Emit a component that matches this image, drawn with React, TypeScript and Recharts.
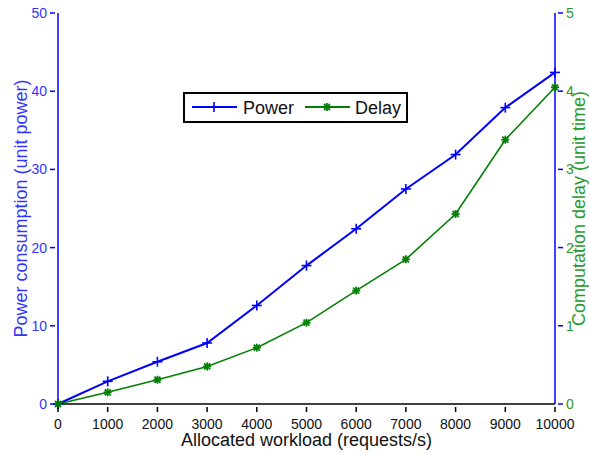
import React from "react";
import { LineChart, Line, XAxis, YAxis } from "recharts";

const workload = [0, 1000, 2000, 3000, 4000, 5000, 6000, 7000, 8000, 9000, 10000];
const power = [0, 2.9, 5.4, 7.8, 12.6, 17.7, 22.4, 27.5, 31.9, 37.9, 42.4];
const delay = [0, 0.15, 0.31, 0.48, 0.72, 1.04, 1.45, 1.85, 2.43, 3.38, 4.05];

const xTicks = [0, 1000, 2000, 3000, 4000, 5000, 6000, 7000, 8000, 9000, 10000];
const powerTicks = [0, 10, 20, 30, 40, 50];
const delayTicks = [0, 1, 2, 3, 4, 5];

const BLUE = "#0000ff";
const GREEN = "#008000";
const LABEL_GREEN = "#2a9a2a";
const FONT = "'Liberation Sans', Arial, sans-serif";

const data = workload.map((w, i) => ({ w, power: power[i], delay: delay[i] }));

const PlusDot = (props: any) => {
  const { cx, cy } = props;
  if (cx == null || cy == null) return null;
  return (
    <g stroke={BLUE} strokeWidth={1.6}>
      <line x1={cx - 5} y1={cy} x2={cx + 5} y2={cy} />
      <line x1={cx} y1={cy - 5} x2={cx} y2={cy + 5} />
    </g>
  );
};

const StarDot = (props: any) => {
  const { cx, cy } = props;
  if (cx == null || cy == null) return null;
  return (
    <g stroke={GREEN} strokeWidth={1.8}>
      <line x1={cx - 4} y1={cy} x2={cx + 4} y2={cy} />
      <line x1={cx} y1={cy - 4} x2={cx} y2={cy + 4} />
      <line x1={cx - 3} y1={cy - 3} x2={cx + 3} y2={cy + 3} />
      <line x1={cx - 3} y1={cy + 3} x2={cx + 3} y2={cy - 3} />
    </g>
  );
};

// ticks point into the plot, like the original
const BottomTick = (props: any) => {
  const { x, y, payload } = props;
  return (
    <g>
      <line x1={x} y1={y} x2={x} y2={y - 5} stroke="#000" strokeWidth={1.5} />
      <text x={x} y={y + 17} textAnchor="middle" fontSize={14} fontFamily={FONT} fill="#111">
        {payload.value}
      </text>
    </g>
  );
};

const TopTick = (props: any) => {
  const { x, y } = props;
  return <line x1={x} y1={y} x2={x} y2={y + 5} stroke="#000" strokeWidth={1.5} />;
};

const LeftTick = (props: any) => {
  const { x, y, payload } = props;
  return (
    <g>
      <line x1={x} y1={y} x2={x + 5} y2={y} stroke={BLUE} strokeWidth={1.5} />
      <text x={x - 3} y={y + 5} textAnchor="end" fontSize={14} fontFamily={FONT} fill="#3333ff">
        {payload.value}
      </text>
    </g>
  );
};

const RightTick = (props: any) => {
  const { x, y, payload } = props;
  return (
    <g>
      <line x1={x} y1={y} x2={x - 5} y2={y} stroke={BLUE} strokeWidth={1.5} />
      <text x={x + 3} y={y + 5} textAnchor="start" fontSize={14} fontFamily={FONT} fill={LABEL_GREEN}>
        {payload.value}
      </text>
    </g>
  );
};

const XLabel = (props: any) => {
  const { viewBox } = props;
  const cx = viewBox.x + viewBox.width / 2;
  return (
    <text x={cx} y={viewBox.y + 42} textAnchor="middle" fontSize={18} fontFamily={FONT} fill="#111">
      Allocated workload (requests/s)
    </text>
  );
};

const LeftLabel = (props: any) => {
  const { viewBox } = props;
  const cy = viewBox.y + viewBox.height / 2;
  const cx = 27;
  return (
    <text
      x={cx}
      y={cy}
      transform={`rotate(-90 ${cx} ${cy})`}
      textAnchor="middle"
      fontSize={18}
      fontFamily={FONT}
      fill="#3333ff"
    >
      Power consumption (unit power)
    </text>
  );
};

const RightLabel = (props: any) => {
  const { viewBox } = props;
  const cy = viewBox.y + viewBox.height / 2;
  const cx = 585;
  return (
    <text
      x={cx}
      y={cy}
      transform={`rotate(-90 ${cx} ${cy})`}
      textAnchor="middle"
      fontSize={18}
      fontFamily={FONT}
      fill={LABEL_GREEN}
    >
      Computation delay (unit time)
    </text>
  );
};

function ChartLegend() {
  return (
    <div
      style={{
        position: "absolute",
        left: 183,
        top: 92,
        width: 221,
        height: 27,
        border: "2px solid #000",
        background: "#fff",
      }}
    >
      <svg width={221} height={27}>
        <line x1={7} y1={13} x2={52} y2={13} stroke={BLUE} strokeWidth={2} />
        <PlusDot cx={29} cy={13} />
        <text x={58} y={20} fontSize={18} fontFamily={FONT} fill="#111">
          Power
        </text>
        <line x1={120} y1={13} x2={165} y2={13} stroke={GREEN} strokeWidth={2} />
        <StarDot cx={142} cy={13} />
        <text x={170} y={20} fontSize={18} fontFamily={FONT} fill="#111">
          Delay
        </text>
      </svg>
    </div>
  );
}

export default function App() {
  return (
    <div style={{ position: "absolute", left: 0, top: 0, width: 589, height: 455, background: "#fff" }}>
      <LineChart width={589} height={455} data={data} margin={{ top: 13, right: 0, bottom: 0, left: 0 }}>
        <XAxis
          dataKey="w"
          type="number"
          domain={[0, 10000]}
          ticks={xTicks}
          interval={0}
          height={51}
          stroke="#000"
          strokeWidth={1.5}
          tickLine={false}
          tick={<BottomTick />}
          label={<XLabel />}
        />
        <XAxis
          xAxisId="top"
          orientation="top"
          dataKey="w"
          type="number"
          domain={[0, 10000]}
          ticks={xTicks}
          interval={0}
          height={0}
          stroke="#000"
          strokeWidth={1.5}
          tickLine={false}
          tick={<TopTick />}
        />
        <YAxis
          yAxisId="left"
          domain={[0, 50]}
          ticks={powerTicks}
          interval={0}
          width={58}
          stroke={BLUE}
          strokeWidth={1.5}
          tickLine={false}
          tick={<LeftTick />}
          label={<LeftLabel />}
        />
        <YAxis
          yAxisId="right"
          orientation="right"
          domain={[0, 5]}
          ticks={delayTicks}
          interval={0}
          width={34}
          stroke={BLUE}
          strokeWidth={1.5}
          tickLine={false}
          tick={<RightTick />}
          label={<RightLabel />}
        />
        <Line
          yAxisId="left"
          dataKey="power"
          stroke={BLUE}
          strokeWidth={2}
          dot={<PlusDot />}
          activeDot={false}
          isAnimationActive={false}
        />
        <Line
          yAxisId="right"
          dataKey="delay"
          stroke={GREEN}
          strokeWidth={1.6}
          dot={<StarDot />}
          activeDot={false}
          isAnimationActive={false}
        />
      </LineChart>
      <ChartLegend />
    </div>
  );
}
